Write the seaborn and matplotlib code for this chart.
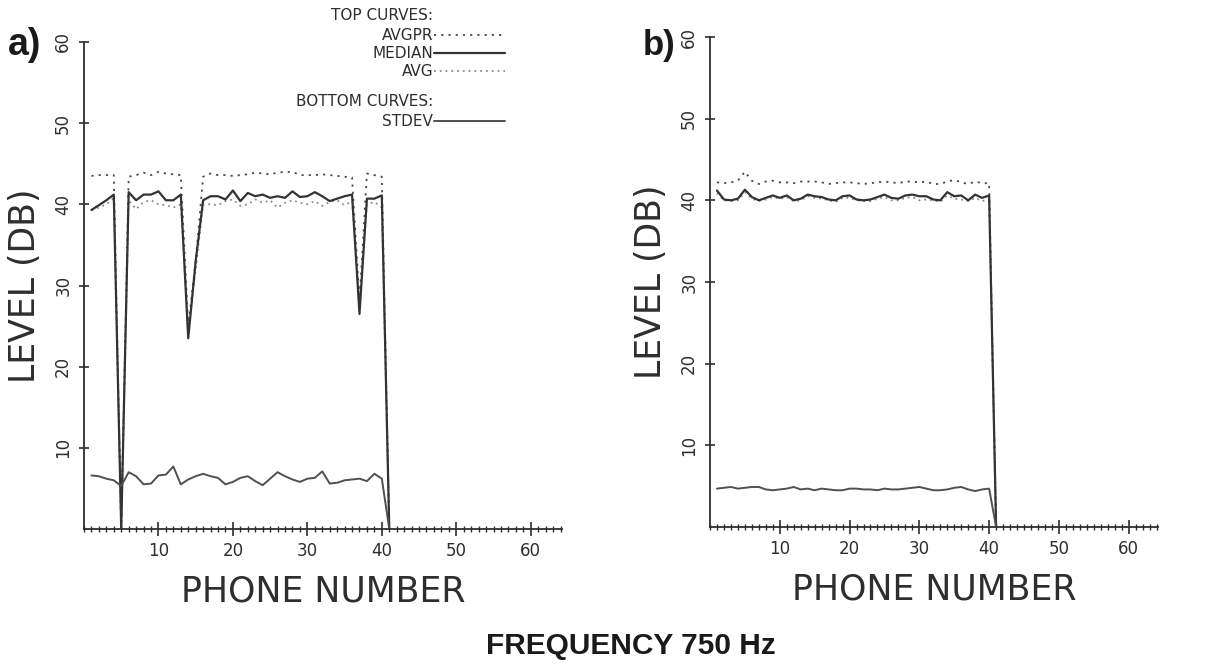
import numpy as np
import pandas as pd
import matplotlib
matplotlib.use("Agg")
import matplotlib.pyplot as plt
import seaborn as sns
from matplotlib.lines import Line2D
from matplotlib.ticker import FixedLocator, MultipleLocator

# ---------------- data ----------------
phones = list(range(1, 42))

# panel a)
a_avgpr = [43.5, 43.6, 43.6, 43.6, 0.0, 43.4, 43.6, 43.9, 43.6, 44.0,
           43.8, 43.7, 43.6, 25.0, 33.0, 43.4, 43.8, 43.6, 43.6, 43.5,
           43.6, 43.7, 43.9, 43.8, 43.7, 43.9, 44.0, 44.0, 43.6, 43.6,
           43.6, 43.7, 43.6, 43.5, 43.4, 43.3, 28.0, 43.8, 43.6, 43.4, 0.0]
a_median = [39.3, 39.9, 40.5, 41.2, 0.0, 41.5, 40.5, 41.2, 41.2, 41.6,
            40.5, 40.5, 41.2, 23.5, 33.0, 40.5, 41.0, 41.0, 40.6, 41.7,
            40.4, 41.4, 41.0, 41.2, 40.8, 41.0, 40.8, 41.6, 40.9, 41.0,
            41.5, 41.0, 40.4, 40.7, 41.0, 41.2, 26.5, 40.7, 40.7, 41.1, 0.0]
a_avg = [39.3, 39.6, 40.0, 40.8, 0.0, 40.5, 39.4, 40.3, 40.5, 40.0,
         39.9, 39.6, 40.0, 24.5, 32.0, 40.0, 40.0, 39.9, 40.4, 40.6,
         39.8, 40.0, 40.6, 40.2, 40.5, 39.6, 40.2, 40.5, 40.2, 40.0,
         40.4, 39.8, 40.3, 40.5, 39.9, 40.4, 28.0, 40.0, 40.3, 39.6, 0.0]
a_stdev = [6.6, 6.5, 6.2, 6.0, 5.3, 7.0, 6.5, 5.5, 5.6, 6.6,
           6.7, 7.7, 5.5, 6.1, 6.5, 6.8, 6.5, 6.3, 5.5, 5.8,
           6.3, 6.5, 5.9, 5.4, 6.2, 7.0, 6.5, 6.1, 5.8, 6.2,
           6.3, 7.1, 5.6, 5.7, 6.0, 6.1, 6.2, 5.9, 6.8, 6.2, 0.0]

# panel b)
b_avgpr = [42.2, 42.1, 42.2, 42.4, 43.5, 42.4, 42.0, 42.3, 42.4, 42.2,
           42.2, 42.1, 42.3, 42.3, 42.3, 42.2, 42.0, 42.1, 42.2, 42.2,
           42.1, 42.0, 42.1, 42.2, 42.3, 42.2, 42.1, 42.3, 42.3, 42.2,
           42.3, 42.0, 42.0, 42.3, 42.5, 42.2, 42.0, 42.3, 42.1, 42.1, 0.0]
b_median = [41.2, 40.1, 40.0, 40.2, 41.3, 40.4, 40.0, 40.3, 40.6, 40.3,
            40.6, 40.0, 40.2, 40.7, 40.5, 40.4, 40.1, 40.0, 40.5, 40.6,
            40.1, 40.0, 40.1, 40.4, 40.7, 40.3, 40.2, 40.6, 40.7, 40.5,
            40.5, 40.1, 40.0, 41.0, 40.5, 40.6, 40.0, 40.7, 40.3, 40.6, 0.0]
b_avg = [40.9, 40.0, 39.9, 40.0, 41.0, 40.2, 39.9, 40.1, 40.4, 40.2,
         40.4, 39.9, 40.0, 40.5, 40.3, 40.2, 40.0, 39.8, 40.3, 40.3,
         40.0, 39.9, 39.9, 40.2, 40.4, 40.0, 40.0, 40.3, 40.4, 40.0,
         40.1, 40.0, 39.8, 40.6, 40.2, 40.1, 39.9, 40.3, 39.9, 40.2, 0.0]
b_stdev = [4.7, 4.8, 4.9, 4.7, 4.8, 4.9, 4.9, 4.6, 4.5, 4.6,
           4.7, 4.9, 4.6, 4.7, 4.5, 4.7, 4.6, 4.5, 4.5, 4.7,
           4.7, 4.6, 4.6, 4.5, 4.7, 4.6, 4.6, 4.7, 4.8, 4.9,
           4.7, 4.5, 4.5, 4.6, 4.8, 4.9, 4.6, 4.4, 4.6, 4.7, 0.0]

x_ticks = [10, 20, 30, 40, 50, 60]
y_ticks = [10, 20, 30, 40, 50, 60]
x_ticklabels = ["10", "20", "30", "40", "50", "60"]
y_ticklabels = ["10", "20", "30", "40", "50", "60"]

# ---------------- style ----------------
sns.set_style("ticks")
plt.rcParams["font.family"] = ["DejaVu Sans"]
INK = "#2e2e2e"

styles = {
    "AVGPR": dict(color="#4a4a4a", linewidth=1.3, linestyle=(0, (1.2, 2.8))),
    "MEDIAN": dict(color="#333333", linewidth=1.6, linestyle="-"),
    "AVG": dict(color="#8a8a8a", linewidth=1.3, linestyle=(0, (1.0, 2.2))),
    "STDEV": dict(color="#505050", linewidth=1.4, linestyle="-"),
}

fig = plt.figure(figsize=(12.07, 6.64), dpi=100)
W, H = 1207.0, 664.0
axA = fig.add_axes([84 / W, 1 - 529 / H, 478 / W, 487 / H])
axB = fig.add_axes([710 / W, 1 - 527 / H, 448 / W, 490 / H])


def draw(ax, avgpr, median, avg, stdev):
    df = pd.DataFrame({"phone": phones, "AVGPR": avgpr, "MEDIAN": median,
                       "AVG": avg, "STDEV": stdev})
    for name in ["AVG", "AVGPR", "MEDIAN", "STDEV"]:
        sns.lineplot(data=df, x="phone", y=name, ax=ax, legend=False,
                     **styles[name])
    ax.set_xlim(0, 64.2)
    ax.set_ylim(0, 60)
    for s in ["top", "right"]:
        ax.spines[s].set_visible(False)
    for s in ["left", "bottom"]:
        ax.spines[s].set_color(INK)
        ax.spines[s].set_linewidth(1.3)
    ax.xaxis.set_major_locator(FixedLocator(x_ticks))
    ax.xaxis.set_minor_locator(MultipleLocator(1))
    ax.yaxis.set_major_locator(FixedLocator(y_ticks))
    ax.set_xticklabels(x_ticklabels)
    ax.set_yticklabels(y_ticklabels, rotation=90, va="center")
    ax.tick_params(axis="x", which="major", direction="inout", length=10,
                   width=1.2, color=INK, labelsize=12, labelcolor=INK, pad=4,
                   bottom=True)
    ax.tick_params(axis="x", which="minor", direction="inout", length=5,
                   width=1.0, color=INK, bottom=True)
    ax.tick_params(axis="y", which="major", direction="inout", length=7,
                   width=1.2, color=INK, labelsize=12, labelcolor=INK, pad=5,
                   left=True)
    ax.set_xlabel("PHONE NUMBER", fontsize=25, color=INK, labelpad=11)
    ax.set_ylabel("LEVEL (DB)", fontsize=25, color=INK, labelpad=9)
    ax.grid(False)
    ax.set_facecolor("white")


draw(axA, a_avgpr, a_median, a_avg, a_stdev)
draw(axB, b_avgpr, b_median, b_avg, b_stdev)

# panel labels
fig.text(8 / W, 1 - 45 / H, "a)", fontsize=27, fontweight="bold",
         family=["Liberation Sans", "DejaVu Sans"], va="center", ha="left",
         color="#1a1a1a")
fig.text(643 / W, 1 - 45 / H, "b)", fontsize=25, fontweight="bold",
         family=["Liberation Sans", "DejaVu Sans"], va="center", ha="left",
         color="#1a1a1a")

# legend block (plotter style)
leg_right = 433 / W
line_end = 505 / W
fig.text(leg_right, 1 - 16 / H, "TOP CURVES:", fontsize=11, color=INK,
         ha="right", va="center")
legend_rows = [("AVGPR", 35), ("MEDIAN", 53), ("AVG", 71)]
for name, ypix in legend_rows:
    fig.text(leg_right, 1 - ypix / H, name, fontsize=11, color=INK,
             ha="right", va="center")
    st = styles[name]
    fig.add_artist(Line2D([leg_right + 1 / W, line_end],
                          [1 - ypix / H, 1 - ypix / H],
                          color=st["color"], linewidth=st["linewidth"],
                          linestyle=st["linestyle"]))
fig.text(leg_right, 1 - 101 / H, "BOTTOM CURVES:", fontsize=11, color=INK,
         ha="right", va="center")
fig.text(leg_right, 1 - 121 / H, "STDEV", fontsize=11, color=INK,
         ha="right", va="center")
st = styles["STDEV"]
fig.add_artist(Line2D([leg_right + 1 / W, line_end], [1 - 121 / H, 1 - 121 / H],
                      color=st["color"], linewidth=st["linewidth"],
                      linestyle=st["linestyle"]))

# caption
fig.text(631 / W, 1 - 646 / H, "FREQUENCY 750 Hz", fontsize=21.5,
         fontweight="bold", family=["Liberation Sans", "DejaVu Sans"],
         ha="center", va="center", color="#1a1a1a")

fig.savefig("out.png", dpi=100, facecolor="white")
